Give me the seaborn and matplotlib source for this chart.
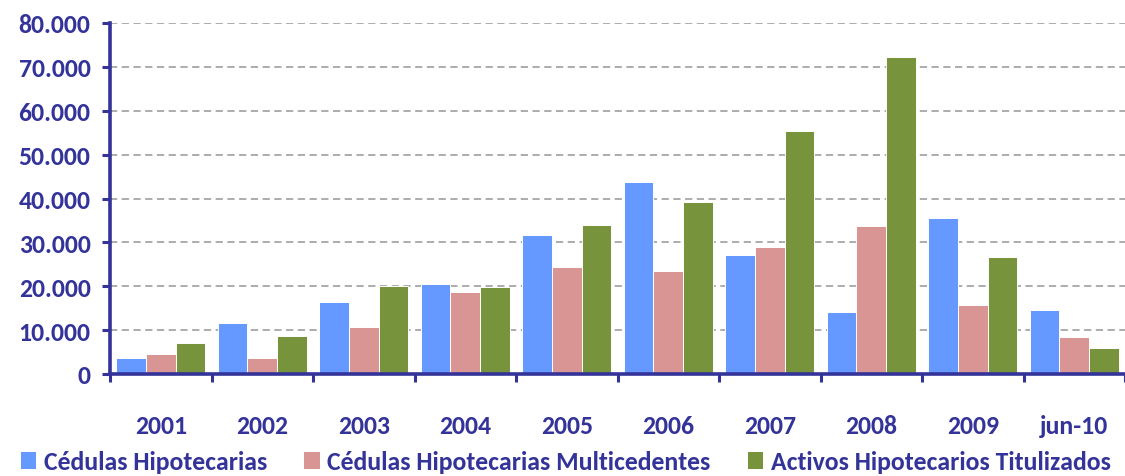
import matplotlib
matplotlib.use("Agg")
import matplotlib.pyplot as plt
import seaborn as sns
import pandas as pd
import numpy as np
from matplotlib.patches import Patch

categories = ["2001", "2002", "2003", "2004", "2005", "2006", "2007", "2008", "2009", "jun-10"]
series_names = ["Cédulas Hipotecarias", "Cédulas Hipotecarias Multicedentes", "Activos Hipotecarios Titulizados"]
cedulas = [3600, 11700, 16400, 20500, 31600, 43700, 27100, 14100, 35500, 14600]
multicedentes = [4600, 3600, 10700, 18700, 24300, 23400, 28900, 33800, 15700, 8400]
titulizados = [7100, 8700, 20000, 19800, 34000, 39200, 55300, 72300, 26600, 5900]
y_ticks = [0, 10000, 20000, 30000, 40000, 50000, 60000, 70000, 80000]
y_labels = ["0", "10.000", "20.000", "30.000", "40.000", "50.000", "60.000", "70.000", "80.000"]

colors = ["#6699FF", "#D99594", "#77933C"]
navy = "#333399"

df = pd.DataFrame({
    "cat": categories * 3,
    "serie": sum([[s] * len(categories) for s in series_names], []),
    "val": cedulas + multicedentes + titulizados,
})

sns.set_theme(style="white")
plt.rcParams["font.family"] = ["Carlito", "DejaVu Sans"]
plt.rcParams["font.weight"] = "bold"

fig = plt.figure(figsize=(11.25, 4.77), dpi=100)
W, H = 1125, 477
ax = fig.add_axes([110 / W, (H - 375) / H, (W - 110) / W, (375 - 24) / H])

sns.barplot(data=df, x="cat", y="val", hue="serie", order=categories, hue_order=series_names,
            palette=colors, width=0.88, ax=ax, edgecolor="white", linewidth=0.7,
            saturation=1, legend=False, zorder=3)

ax.set_xlim(-0.5, 9.44)
ax.set_ylim(0, 80000)
ax.set_yticks(y_ticks)
ax.set_yticklabels(y_labels)
ax.yaxis.grid(True, linestyle=(0, (4, 2.5)), color="#A6A6A6", linewidth=1.3, zorder=0)
ax.set_axisbelow(True)
ax.set_xlabel("")
ax.set_ylabel("")

for side in ["top", "right"]:
    ax.spines[side].set_visible(False)
for side in ["left", "bottom"]:
    ax.spines[side].set_color(navy)
    ax.spines[side].set_linewidth(2.6)
    ax.spines[side].set_zorder(5)

ax.tick_params(axis="y", direction="out", length=6, width=2.2, color=navy, labelcolor=navy,
               labelsize=18.5, pad=8, left=True)
for lab in ax.get_yticklabels():
    lab.set_fontweight("bold")

ax.set_xticks(range(len(categories)))
ax.set_xticklabels(categories)
ax.set_xticks(np.arange(-0.5, len(categories), 1.0), minor=True)
ax.tick_params(axis="x", which="major", length=0, pad=29, labelcolor=navy, labelsize=18.5)
ax.tick_params(axis="x", which="minor", direction="out", length=6, width=2.2, color=navy, bottom=True)
for lab in ax.get_xticklabels():
    lab.set_fontweight("bold")

handles = [Patch(facecolor=c, edgecolor="none") for c in colors]
leg = fig.legend(handles, series_names, loc="lower left", bbox_to_anchor=(0.016, 0.0), ncol=3,
                 frameon=False, handlelength=0.6, handleheight=0.6, handletextpad=0.3,
                 columnspacing=1.45, borderaxespad=0.0, borderpad=0.1,
                 prop={"family": ["Carlito", "DejaVu Sans"], "weight": "bold", "size": 18.5})
for t in leg.get_texts():
    t.set_color(navy)

fig.savefig("out.png", dpi=100)
